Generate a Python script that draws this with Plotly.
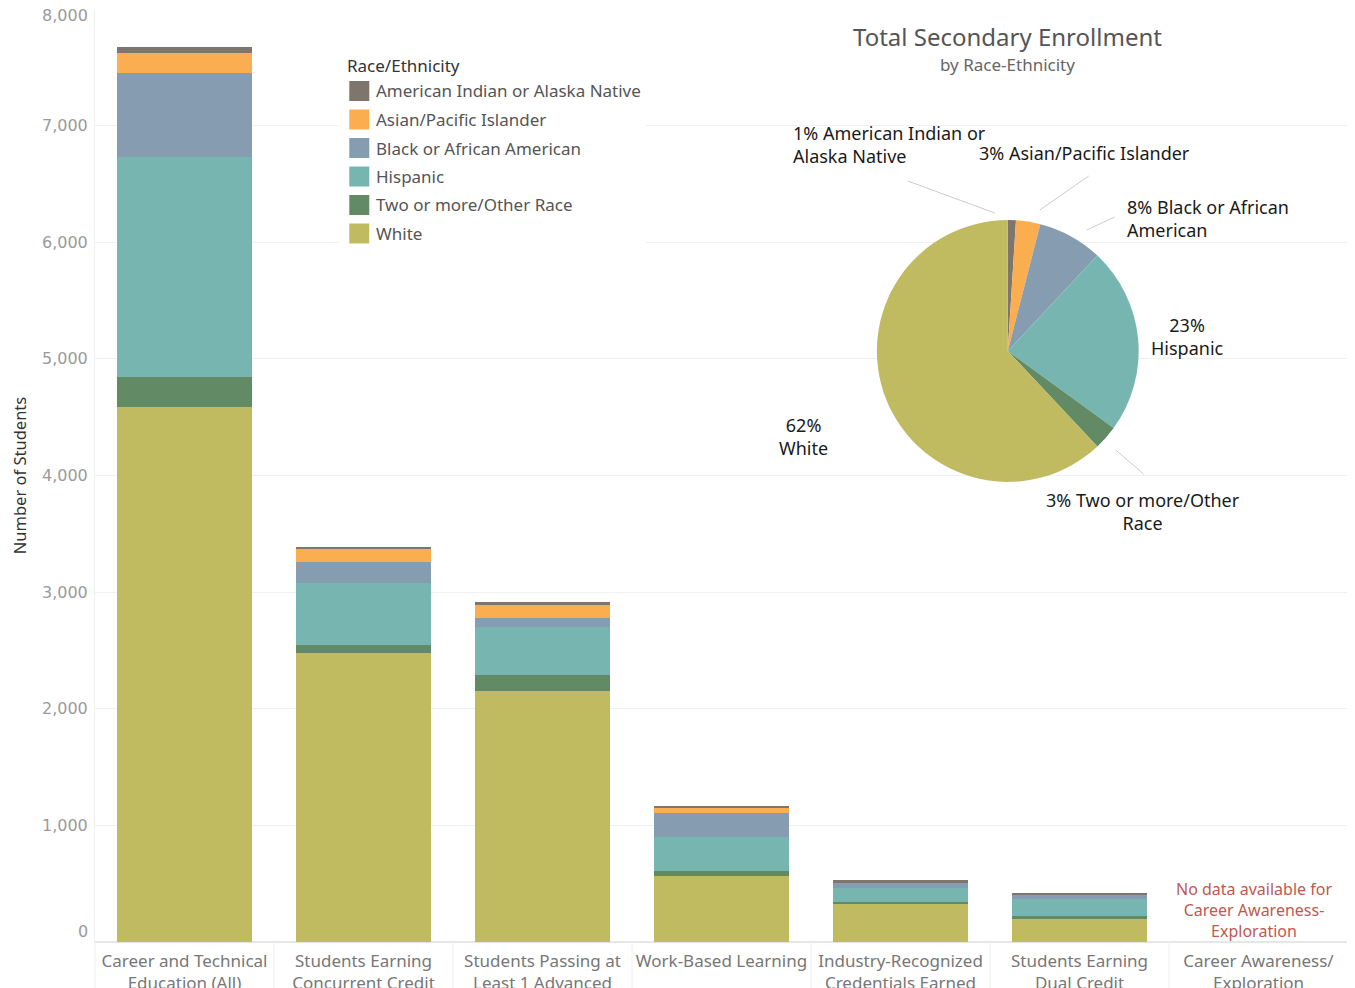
import plotly.graph_objects as go

# ---------------- data ----------------
categories = [
    "Career and Technical<br>Education (All)",
    "Students Earning<br>Concurrent Credit",
    "Students Passing at<br>Least 1 Advanced",
    "Work-Based Learning",
    "Industry-Recognized<br>Credentials Earned",
    "Students Earning<br>Dual Credit",
    "Career Awareness/<br>Exploration",
]
groups = ["White", "Two or more/Other Race", "Hispanic",
          "Black or African American", "Asian/Pacific Islander",
          "American Indian or Alaska Native"]
white     = [4586, 2477, 2151, 566, 334, 197, None]
two_more  = [257, 69, 137, 43, 9, 26, None]
hispanic  = [1886, 531, 412, 291, 120, 146, None]
black     = [720, 180, 77, 206, 43, 34, None]
asian     = [171, 111, 120, 43, 8, 0, None]
am_indian = [51, 18, 17, 17, 17, 17, None]
series = [white, two_more, hispanic, black, asian, am_indian]

y_ticks = [0, 1000, 2000, 3000, 4000, 5000, 6000, 7000, 8000]

colors = {
    "American Indian or Alaska Native": "#7e756d",
    "Asian/Pacific Islander": "#fbae4f",
    "Black or African American": "#869cb0",
    "Hispanic": "#77b6b0",
    "Two or more/Other Race": "#628b65",
    "White": "#c0bb61",
}

pie_labels = ["American Indian or Alaska Native", "Asian/Pacific Islander",
              "Black or African American", "Hispanic",
              "Two or more/Other Race", "White"]
pie_values = [1, 3, 8, 23, 3, 62]

legend_order = ["American Indian or Alaska Native", "Asian/Pacific Islander",
                "Black or African American", "Hispanic",
                "Two or more/Other Race", "White"]

# ---------------- layout geometry (page pixel coords) ----------------
OFF = 8  # browser default body margin
W, H = 1355 - OFF, 988 - OFF
L, R, T, B = 94.5, 1348.5, 9, 942  # plot area in page pixels
PW, PH = R - L, B - T

def px(x):
    return (x - L) / PW

def py(y):
    return (B - y) / PH

FONT = "Noto Sans"

fig = go.Figure()
for name, vals in zip(groups, series):
    fig.add_trace(go.Bar(
        x=categories, y=vals, name=name,
        marker=dict(color=colors[name], line=dict(width=0)),
        showlegend=False,
        hovertemplate="%{x}<br>" + name + ": %{y}<extra></extra>",
    ))

# pie
cx, cy, rad = 1008, 351, 131
fig.add_trace(go.Pie(
    labels=pie_labels, values=pie_values, sort=False, direction="clockwise",
    rotation=0, textinfo="none", showlegend=False,
    marker=dict(colors=[colors[n] for n in pie_labels], line=dict(width=0)),
    domain=dict(x=[px(cx - rad), px(cx + rad)], y=[py(cy + rad), py(cy - rad)]),
))

shapes = []
annotations = []

# legend box (white background covering grid)
shapes.append(dict(type="rect", xref="paper", yref="paper",
                   x0=px(338), x1=px(646), y0=py(246), y1=py(52),
                   fillcolor="white", line=dict(width=0), layer="above"))
annotations.append(dict(xref="paper", yref="paper", x=px(345), y=py(66),
                        text="Race/Ethnicity", showarrow=False, xanchor="left",
                        yanchor="middle", font=dict(family=FONT, size=17, color="#333333")))
for i, name in enumerate(legend_order):
    yc = 91 + i * 28.5
    shapes.append(dict(type="rect", xref="paper", yref="paper",
                       x0=px(349), x1=px(369), y0=py(yc + 10), y1=py(yc - 10),
                       fillcolor=colors[name], line=dict(width=0), layer="above"))
    annotations.append(dict(xref="paper", yref="paper", x=px(374), y=py(yc),
                            text=name, showarrow=False, xanchor="left", yanchor="middle",
                            font=dict(family=FONT, size=17, color="#555555")))

# pie title
annotations.append(dict(xref="paper", yref="paper", x=px(1008), y=py(36),
                        text="Total Secondary Enrollment", showarrow=False,
                        xanchor="center", yanchor="middle",
                        font=dict(family=FONT, size=24, color="#555555")))
annotations.append(dict(xref="paper", yref="paper", x=px(1008), y=py(64),
                        text="by Race-Ethnicity", showarrow=False,
                        xanchor="center", yanchor="middle",
                        font=dict(family=FONT, size=17, color="#666666")))

lab_font = dict(family=FONT, size=18, color="#1a1a1a")
pie_texts = [
    ("1% American Indian or<br>Alaska Native", 791, 144, "left"),
    ("3% Asian/Pacific Islander", 977, 153, "left"),
    ("8% Black or African<br>American", 1125, 219, "left"),
    ("23%<br>Hispanic", 1188, 336, "center"),
    ("62%<br>White", 804, 436, "center"),
    ("3% Two or more/Other<br>Race", 1143, 511, "center"),
]
for txt, x, y, anc in pie_texts:
    annotations.append(dict(xref="paper", yref="paper", x=px(x), y=py(y), text=txt,
                            showarrow=False, xanchor=anc, yanchor="middle", align=anc,
                            font=lab_font))
leaders = [((908, 181), (995, 213)), ((1089, 176), (1040, 210)),
           ((1115, 217), (1087, 230)), ((1116, 450), (1144, 474))]
for (x0, y0), (x1, y1) in leaders:
    shapes.append(dict(type="line", xref="paper", yref="paper",
                       x0=px(x0), y0=py(y0), x1=px(x1), y1=py(y1),
                       line=dict(color="#cccccc", width=1)))

# no data note
annotations.append(dict(xref="paper", yref="paper", x=px(1254), y=py(910),
                        text="No data available for<br>Career Awareness-<br>Exploration",
                        showarrow=False, xanchor="center", yanchor="middle",
                        font=dict(family=FONT, size=16, color="#c0584f")))

# edge y tick labels (Tableau nudges them inside the plot range)
tick_font = dict(family="DejaVu Sans", size=16, color="#9a9a9a")
annotations.append(dict(xref="paper", yref="y", x=px(89), y=y_ticks[-1], yshift=-6,
                        text=f"{y_ticks[-1]:,}", showarrow=False, xanchor="right",
                        yanchor="middle", font=tick_font))
annotations.append(dict(xref="paper", yref="y", x=px(89), y=y_ticks[0], yshift=11,
                        text=f"{y_ticks[0]:,}", showarrow=False, xanchor="right",
                        yanchor="middle", font=tick_font))

# header separators under x axis
for k in range(8):
    xs = L + k * PW / 7
    shapes.append(dict(type="line", xref="paper", yref="paper",
                       x0=px(xs), x1=px(xs), y0=py(942), y1=py(990),
                       line=dict(color="#eeeeee", width=1)))

fig.update_layout(
    width=W, height=H,
    margin=dict(l=L - OFF, r=1355 - R, t=T - OFF, b=H - (B - OFF), pad=0),
    paper_bgcolor="white", plot_bgcolor="white",
    barmode="stack", bargap=0.246,
    font=dict(family=FONT),
    shapes=shapes, annotations=annotations,
    xaxis=dict(tickfont=dict(family=FONT, size=17, color="#777777"),
               showgrid=False, showline=False, ticks="", automargin=False,
               ticklabelstandoff=7),
    yaxis=dict(range=[0, 8000], tickvals=y_ticks,
               ticktext=[""] + [f"{v:,}" for v in y_ticks[1:-1]] + [""],
               tickfont=tick_font,
               gridcolor="#f0f0f0", gridwidth=1, zeroline=True, zerolinecolor="#e6e6e6",
               showline=True, linecolor="#f0f0f0", ticks="", automargin=False,
               ticklabelstandoff=3,
               title=dict(text="Number of Students", standoff=14,
                          font=dict(family=FONT, size=16.5, color="#333333"))),
)

fig.write_html("out.html")
